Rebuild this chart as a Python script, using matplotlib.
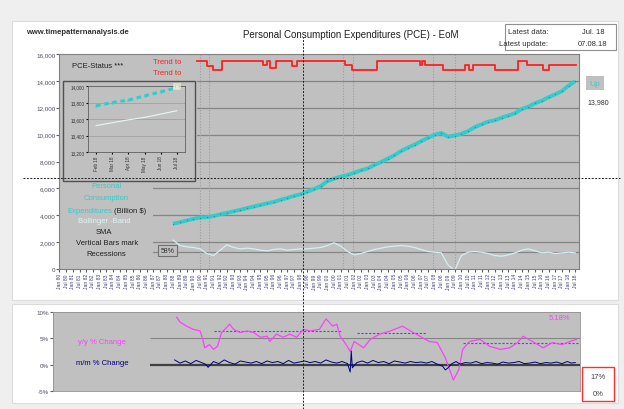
import numpy as np
import matplotlib
matplotlib.use("Agg")
import matplotlib.pyplot as plt
from matplotlib.patches import Rectangle
from matplotlib.lines import Line2D

plt.rcParams['font.family'] = ['Liberation Sans', 'DejaVu Sans']

# ---- data ----
# PCE, billion $, every half year from Jul 1988 to Jul 2018
pce_years = np.arange(1988.5, 2018.51, 0.5)
pce = [3370, 3480, 3610, 3730, 3830, 3860, 3940, 4070, 4180, 4290,
       4400, 4530, 4650, 4760, 4880, 4990, 5150, 5280, 5440, 5560,
       5750, 5950, 6170, 6540, 6730, 6880, 6990, 7170, 7340, 7480,
       7740, 7960, 8210, 8460, 8780, 9030, 9250, 9510, 9760, 9990,
       10120, 9850, 9930, 10060, 10260, 10560, 10760, 10970, 11070, 11260,
       11420, 11590, 11900, 12080, 12340, 12520, 12780, 13000, 13240, 13650,
       13980]
sma = [2150, 1750, 1650, 1600, 1500, 1150, 1000, 1400, 1800, 1600,
       1500, 1550, 1500, 1400, 1350, 1450, 1500, 1400, 1450, 1500,
       1500, 1550, 1600, 1750, 1950, 1700, 1300, 1050, 1150, 1300,
       1450, 1550, 1650, 1700, 1750, 1700, 1600, 1450, 1300, 1250,
       1200, 300, -100, 1000, 1250, 1300, 1250, 1150, 1000, 950,
       1050, 1200, 1400, 1500, 1350, 1200, 1250, 1150, 1200, 1250,
       1200]

# trend indicator (step line)
trend_years = [1990.27, 1991.0, 1991.46, 1992.1, 1995.2, 1995.5, 1995.7, 1996.2,
               1997.35, 1997.7, 2001.3, 2001.8, 2003.7, 2006.9, 2007.05, 2007.3,
               2008.6, 2010.3, 2010.6, 2010.9, 2012.5, 2014.2, 2014.9, 2016.1,
               2016.5, 2018.58]
trend_vals = [15500, 15100, 14800, 15500, 15150, 15500, 14950, 15500,
              15100, 15500, 15150, 14800, 15500, 15150, 15500, 15150,
              14800, 15150, 14800, 15150, 14800, 15500, 15150, 14800,
              15150, 15150]

recessions = [(1980.0, 1980.5), (1981.5, 1982.9), (1990.5, 1991.2),
              (2001.2, 2001.9), (2007.9, 2009.5)]

# y/y % change
yoy_years = [1988.75, 1989.0, 1989.5, 1990.0, 1990.5, 1990.7, 1990.85, 1991.2, 1991.5, 1991.8,
             1992.1, 1992.5, 1992.7, 1993.0, 1993.5, 1994.0, 1994.5, 1995.0, 1995.5, 1995.7,
             1996.2, 1996.7, 1997.2, 1997.7, 1998.2, 1998.7, 1999.4, 1999.9, 2000.4, 2000.7,
             2000.95, 2001.4, 2001.7, 2002.0, 2002.7, 2003.2, 2003.9, 2004.7, 2005.6, 2006.2,
             2006.9, 2007.6, 2008.2, 2008.8, 2009.4, 2009.8, 2010.1, 2010.6, 2011.4, 2012.1,
             2012.9, 2013.6, 2014.2, 2014.6, 2015.3, 2016.1, 2016.8, 2017.5, 2018.1, 2018.58]
yoy = [9.0, 8.1, 7.3, 6.7, 6.4, 4.8, 3.2, 3.8, 2.9, 3.5,
       6.1, 7.1, 7.7, 6.7, 6.1, 6.4, 6.1, 5.2, 5.4, 4.4,
       5.8, 5.2, 5.8, 5.2, 6.7, 6.4, 6.7, 8.7, 7.3, 7.7,
       5.4, 3.8, 2.5, 4.4, 3.2, 4.8, 5.8, 6.4, 7.3, 6.4,
       5.4, 4.4, 4.2, 1.3, -2.9, -1.0, 2.9, 4.4, 4.8, 3.5,
       2.9, 3.2, 4.2, 5.4, 4.4, 3.2, 4.2, 3.8, 4.4, 4.8]
yoy_label = '5.18%'

# m/m % change
mom_years = [1988.6, 1989.0, 1989.4, 1989.8, 1990.2, 1990.6, 1990.9, 1991.1, 1991.5, 1991.9,
             1992.3, 1992.7, 1993.1, 1993.5, 1993.9, 1994.3, 1994.7, 1995.1, 1995.5, 1995.9,
             1996.3, 1996.7, 1997.1, 1997.5, 1997.9, 1998.3, 1998.7, 1999.1, 1999.5, 1999.9,
             2000.3, 2000.7, 2001.1, 2001.5, 2001.70, 2001.78, 2001.86, 2002.2, 2002.6, 2003.0,
             2003.4, 2003.8, 2004.2, 2004.6, 2005.0, 2005.4, 2005.8, 2006.2, 2006.6, 2007.0,
             2007.4, 2007.8, 2008.2, 2008.6, 2008.8, 2009.0, 2009.3, 2009.6, 2009.9, 2010.3,
             2010.7, 2011.1, 2011.5, 2011.9, 2012.3, 2012.7, 2013.1, 2013.5, 2013.9, 2014.3,
             2014.7, 2015.1, 2015.5, 2015.9, 2016.3, 2016.7, 2017.1, 2017.5, 2017.9, 2018.2,
             2018.5]
mom = [0.9, 0.3, 0.7, 0.2, 0.8, 0.4, 0.1, -0.5, 0.6, 0.2,
       0.9, 0.4, 0.1, 0.7, 0.5, 0.3, 0.6, 0.2, 0.7, 0.4,
       0.6, 0.2, 0.8, 0.3, 0.5, 0.7, 0.4, 0.6, 0.3, 0.9,
       0.5, 0.3, 0.6, 0.2, -1.4, 2.6, -0.6, 0.4, 0.7, 0.3,
       0.8, 0.4, 0.6, 0.2, 0.7, 0.5, 0.3, 0.6, 0.4, 0.5,
       0.3, 0.6, 0.1, -0.3, -1.0, -0.6, 0.2, 0.6, 0.1, 0.4,
       0.3, 0.6, 0.2, 0.4, 0.3, 0.1, 0.5, 0.3, 0.4, 0.6,
       0.2, 0.3, 0.5, 0.2, 0.4, 0.3, 0.5, 0.2, 0.6, 0.3,
       0.4]

avg_segments = [(1991.5, 2001.0, 6.35), (2002.2, 2007.4, 6.1), (2010.1, 2018.8, 4.2)]

# inset: last six months
inset_labels = ['Feb 18', 'Mar 18', 'Apr 18', 'May 18', 'Jun 18', 'Jul 18']
inset_pce = [13760, 13800, 13830, 13880, 13930, 13980]
inset_band = [13520, 13555, 13590, 13620, 13660, 13700]

# ---- layout helpers (pixel positions of the original picture) ----
W, H = 624, 410
BG = '#c0c0c0'
TEAL = '#33cccc'


def yr(px):
    return 1980 + (px - 59.4) / 13.4


def val(py):
    return (270 - py) / 215 * 16000


fig = plt.figure(figsize=(W / 100, H / 100), dpi=100, facecolor='#efefef')


def px_axes(l, t, r, b, **kw):
    return fig.add_axes([l / W, 1 - b / H, (r - l) / W, (b - t) / H], **kw)


def px_rect(l, t, r, b, **kw):
    rect = Rectangle((l / W, 1 - b / H), (r - l) / W, (b - t) / H,
                     transform=fig.transFigure, **kw)
    fig.add_artist(rect)
    return rect


px_rect(12, 22, 618, 301, fc='white', ec='#dcdcdc', lw=0.8, zorder=-2)
px_rect(12, 305, 618, 404, fc='white', ec='#dcdcdc', lw=0.8, zorder=-2)

# ---- main panel ----
ax = px_axes(59.4, 55, 579, 270)
ax.set_facecolor(BG)
ax.set_xlim(yr(59.4), yr(579))
ax.set_ylim(0, 16000)
for s in ax.spines.values():
    s.set_color('#808080')
    s.set_linewidth(0.8)

for g in range(2000, 16000, 2000):
    ax.axhline(g, color='#858585', lw=0.9, zorder=1)
ax.axhline(1300, color='#858585', lw=0.9, zorder=1)

for a, b in recessions:
    for xv in (a, b):
        ax.axvline(xv, color='#9c9c9c', lw=0.8, ls=(0, (1, 1.5)), zorder=1)

# cover behind legend / inset
ax.add_patch(Rectangle((yr(59.4), val(183)), yr(197) - yr(59.4), 16000 - val(183),
                       fc=BG, ec='none', zorder=1.5))
ax.add_patch(Rectangle((yr(59.4), 0), yr(153) - yr(59.4), val(183),
                       fc=BG, ec='none', zorder=1.5))

ax.plot(pce_years, sma, color='#d4eef4', lw=0.9, zorder=2)
ax.plot(trend_years, trend_vals, color='#ff2020', lw=1.3, drawstyle='steps-post', zorder=2)
ax.plot(pce_years, pce, color=TEAL, lw=2.8, zorder=3, solid_capstyle='butt')
ax.plot(pce_years, pce, ls='none', marker='o', ms=1.0, mfc='#3a8c8c', mec='none', zorder=3.5)

ax.set_yticks(range(0, 16001, 2000))
ax.set_yticklabels([f"{v:,}" for v in range(0, 16001, 2000)])
ax.tick_params(axis='y', labelsize=4.5, labelcolor='#505060', length=2, color='#606060', pad=1)

xt = np.arange(1980.0, 2018.6, 0.5)
ax.set_xticks(xt)
ax.set_xticklabels([("Jan " if (t % 1) == 0 else "Jul ") + f"{int(t) % 100:02d}" for t in xt],
                   rotation=90)
ax.tick_params(axis='x', labelsize=3.6, labelcolor='#40407a', length=2, color='#606060', pad=1)

# legend texts
ax.text(yr(59.4) + 0.95, val(67), 'PCE-Status ***', fontsize=5.5, color='#202020',
        va='center', zorder=5)
ax.text(yr(153), val(63), 'Trend to', fontsize=5.5, color='#ff2020', va='center', zorder=5)
ax.text(yr(153), val(74), 'Trend to', fontsize=5.5, color='#ff2020', va='center', zorder=5)
ax.text(yr(107), val(187), 'Personal', fontsize=5.5, color=TEAL, ha='center', va='center', zorder=5)
ax.text(yr(106), val(199), 'Consumption', fontsize=5.5, color=TEAL, ha='center', va='center', zorder=5)
ax.text(yr(112), val(212), 'Expenditures', fontsize=5.5, color=TEAL, ha='right', va='center', zorder=5)
ax.text(yr(114), val(212), '(Billion $)', fontsize=5.5, color='#202020', ha='left', va='center', zorder=5)
ax.text(yr(104), val(222), 'Bollinger -Band', fontsize=5.5, color='#d8f8f8', ha='center', va='center', zorder=5)
ax.text(yr(104), val(233), 'SMA', fontsize=5.5, color='#202020', ha='center', va='center', zorder=5)
ax.text(yr(107), val(244), 'Vertical Bars mark', fontsize=5.5, color='#202020', ha='center', va='center', zorder=5)
ax.text(yr(106), val(255), 'Recessions', fontsize=5.5, color='#202020', ha='center', va='center', zorder=5)
ax.text(yr(167.5), val(251.5), '58%', fontsize=5, color='#303030', ha='center', va='center', zorder=5,
        bbox=dict(boxstyle='square,pad=0.35', fc=BG, ec='#707070', lw=0.8))

# right side labels
fig.text(595 / W, 1 - 84 / H, 'Up', fontsize=6, color=TEAL, ha='center', va='center',
         bbox=dict(boxstyle='square,pad=0.4', fc=BG, ec='none'))
fig.text(598 / W, 1 - 103 / H, f"{pce[-1]:,}", fontsize=5, color='#303030', ha='center', va='center')

# ---- inset ----
px_rect(63, 82, 195, 182, fc='none', ec='#505050', lw=1.0, zorder=3)
ins = px_axes(88, 87, 185, 153, zorder=4)
ins.set_facecolor(BG)
ins.set_xlim(-0.5, 5.5)
ins.set_ylim(13200, 14000)
for g in range(13200, 14001, 200):
    ins.axhline(g, color='#9a9a9a', lw=0.5, zorder=1)
ins.plot(range(6), inset_band, color='#e4f8f8', lw=0.8, zorder=2)
ins.plot(range(6), inset_pce, color=TEAL, lw=2.2, ls=(0, (1.5, 1.2)), marker='s', ms=2,
         mec='none', zorder=3)
ins.text(5, 13990, 'Up', fontsize=3.5, color='white', ha='center', va='center', zorder=4,
         bbox=dict(boxstyle='square,pad=0.2', fc='#e8e8c8', ec='none', alpha=0.7))
ins.set_yticks(range(13200, 14001, 200))
ins.set_yticklabels([f"{v:,}" for v in range(13200, 14001, 200)])
ins.set_xticks(range(6))
ins.set_xticklabels(inset_labels, rotation=90)
ins.tick_params(labelsize=3.3, labelcolor='#303030', length=1.5, pad=1)
for s in ins.spines.values():
    s.set_color('#606060')
    s.set_linewidth(0.6)

# ---- lower panel ----
ax2 = px_axes(53, 313, 580, 392)
ax2.set_facecolor(BG)
ax2.set_xlim(yr(53), yr(580))
ax2.set_ylim(-5, 10)
for s in ax2.spines.values():
    s.set_color('#909090')
    s.set_linewidth(0.6)
ax2.hlines(5, yr(150), yr(580), color='#858585', lw=0.8, zorder=1)
ax2.hlines(0, yr(150), yr(580), color='#404040', lw=1.6, zorder=1)
for a, b, v in avg_segments:
    ax2.hlines(v, a, b, color='#4a4aff', lw=0.8, linestyles=(0, (2, 1.5)), zorder=2)
ax2.plot(yoy_years, yoy, color='#ff40ff', lw=0.9, zorder=3)
ax2.plot(mom_years, mom, color='#000080', lw=0.7, zorder=3)
ax2.set_xticks([])
ax2.set_yticks([-5, 0, 5, 10])
ax2.set_yticklabels(['-5%', '0%', '5%', '10%'])
ax2.tick_params(axis='y', labelsize=4.5, labelcolor='#505060', length=2, color='#606060', pad=1)
ax2.text(yr(102), 4.4, 'y/y % Change', fontsize=5.5, color='#ff40ff', ha='center', va='center')
ax2.text(yr(102), 0.4, 'm/m % Change', fontsize=5.5, color='#000080', ha='center', va='center')
ax2.text(yr(560), 9.0, yoy_label, fontsize=5.5, color='#ff40ff', ha='center', va='center')

px_rect(582, 368, 614, 402, fc='white', ec='#ff3030', lw=1.0, zorder=3)
fig.text(598 / W, 1 - 378 / H, '17%', fontsize=5.5, color='#404040', ha='center', va='center', zorder=4)
fig.text(598 / W, 1 - 395 / H, '0%', fontsize=5.5, color='#404040', ha='center', va='center', zorder=4)

# ---- header ----
fig.text(26 / W, 1 - 33 / H, 'www.timepatternanalysis.de', fontsize=5.5, fontweight='bold',
         color='#303030', va='center')
fig.text(351 / W, 1 - 35 / H, 'Personal Consumption Expenditures (PCE) - EoM', fontsize=7,
         color='#202020', ha='center', va='center')
px_rect(505, 25, 616, 51, fc='white', ec='#909090', lw=0.8, zorder=3)
fig.text(548 / W, 1 - 32 / H, 'Latest data:', fontsize=5.5, color='#303030', ha='right', va='center', zorder=4)
fig.text(582 / W, 1 - 32 / H, 'Jul. 18', fontsize=5.5, color='#303030', ha='left', va='center', zorder=4)
fig.text(548 / W, 1 - 44 / H, 'Latest update:', fontsize=5.5, color='#303030', ha='right', va='center', zorder=4)
fig.text(578 / W, 1 - 44 / H, '07.08.18', fontsize=5.5, color='#303030', ha='left', va='center', zorder=4)

# crosshair through the main panel
fig.canvas.draw()
cx, _ = ax.transData.transform((1998.2, 0))
_, cy = ax.transData.transform((0, 6750))
cx, cy = cx / fig.bbox.width, cy / fig.bbox.height
fig.add_artist(Line2D([cx, cx], [0, 1 - 38 / H], color='#202020', lw=0.7, ls=(0, (2, 1.5)),
                      transform=fig.transFigure, zorder=6))
fig.add_artist(Line2D([23 / W, 620 / W], [cy, cy], color='#202020', lw=0.7, ls=(0, (2, 1.5)),
                      transform=fig.transFigure, zorder=6))

fig.savefig('out.png', dpi=100, facecolor=fig.get_facecolor())
